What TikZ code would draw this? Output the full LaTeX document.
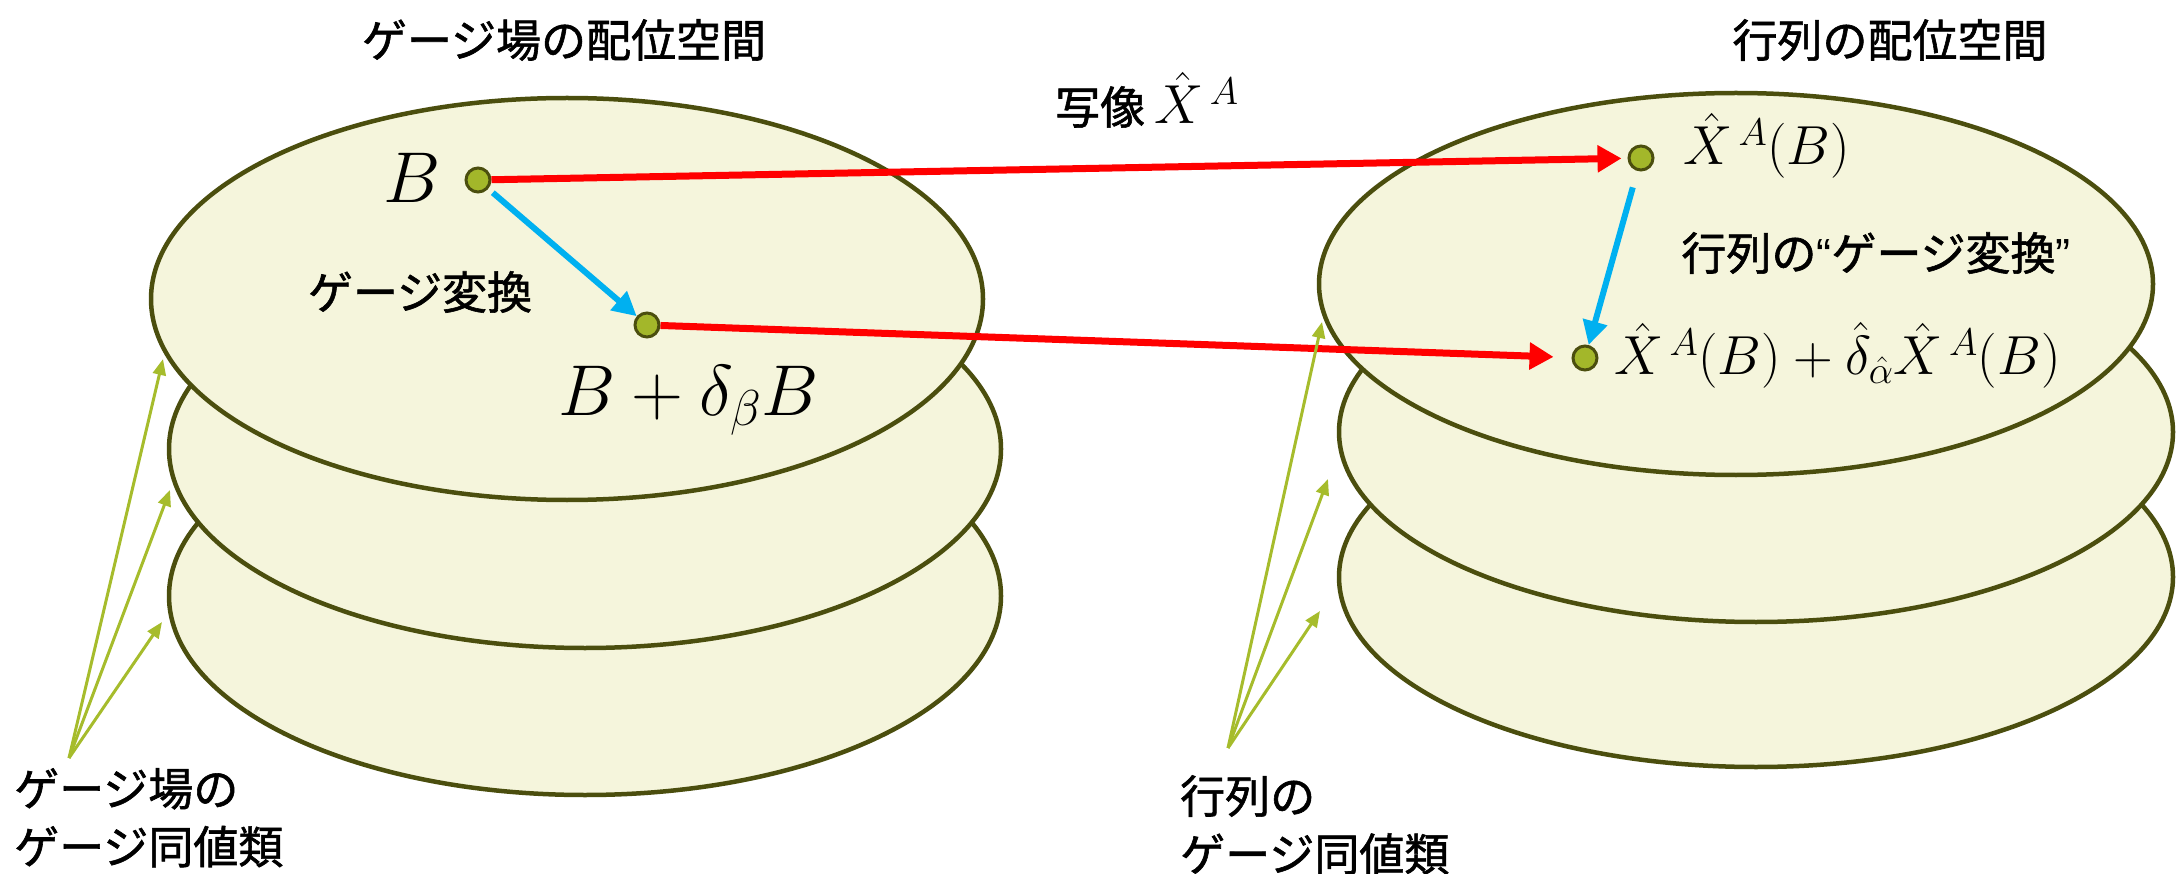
\documentclass[tikz,border=0pt]{standalone}
\usepackage{fix-cm}
\usepackage{fontspec}
\setmainfont{Noto Sans CJK JP}[RawFeature={embolden=1.3}]
\newfontfamily\latinq{Liberation Sans}
\usetikzlibrary{arrows.meta,shapes.geometric}
\definecolor{layerfill}{RGB}{245,245,220}
\definecolor{layerline}{RGB}{75,78,14}
\definecolor{dotfill}{RGB}{163,183,42}
\definecolor{greenarr}{RGB}{166,188,44}
\definecolor{bluearr}{RGB}{0,176,240}
\definecolor{redarr}{RGB}{255,0,0}
\begin{document}
\begin{tikzpicture}[x=1pt,y=-1pt,
  layer/.style={ellipse, draw=layerline, fill=layerfill, line width=4.5pt, inner sep=0pt},
  ldisk/.style={layer, minimum width=832pt, minimum height=398pt},
  rdisk/.style={layer, minimum width=834pt, minimum height=380pt},
  pt/.style={circle, draw=layerline, fill=dotfill, line width=3pt, minimum size=24pt, inner sep=0pt},
  jp/.style={font=\fontsize{45}{58}\selectfont, inner sep=0pt},
  mbig/.style={font=\fontsize{72}{80}\selectfont, inner sep=0pt},
  mmid/.style={font=\fontsize{55}{62}\selectfont, inner sep=0pt},
  rarrow/.style={draw=redarr, line width=7pt, -{Triangle[length=24pt,width=26pt]}},
  barrow/.style={draw=bluearr, line width=6pt, -{Triangle[length=24pt,width=24pt]}},
  garrow/.style={draw=greenarr, line width=3pt, -{Triangle[length=16pt,width=13pt]}}
]
\useasboundingbox (0,0) rectangle (2179,874);

% left stack
\node[ldisk] (L3) at (585,596) {};
\node[ldisk] (L2) at (585,449) {};
\node[ldisk, minimum height=402pt] (L1) at (567,299) {};
% right stack
\node[rdisk] (R3) at (1756,577) {};
\node[rdisk] (R2) at (1756,432) {};
\node[rdisk, minimum height=382pt] (R1) at (1736,284) {};

% titles
\node[jp] (tL) at (564,40) {ゲージ場の配位空間};
\node[jp] (tR) at (1890,40) {行列の配位空間};
\node[jp, anchor=base west] (map) at (1055,124) {写像{\fontsize{55}{62}\selectfont$\,\hat{X}^{\,A}$}};

% points
\node[pt] (dB) at (478,180) {};
\node[pt] (dB2) at (647,325) {};
\node[pt] (dX) at (1641,158) {};
\node[pt] (dX2) at (1585,358) {};

% labels
\node[mbig, anchor=base east] (lB) at (441,203) {$B$};
\node[mbig, anchor=base west] (lB2) at (558,415) {$B+\delta_\beta B$};
\node[jp] (lgt) at (420,292) {ゲージ変換};
\node[mmid, anchor=base west] (lX) at (1683,165) {$\hat{X}^{\,A}(B)$};
\node[mmid, anchor=base west] (lX2) at (1614,375) {$\hat{X}^{\,A}(B)+\hat{\delta}_{\hat{\alpha}}\hat{X}^{\,A}(B)$};
\node[jp] (lmgt) at (1876,253) {行列の{\latinq “}ゲージ変換{\latinq ”}};

% arrows
\draw[rarrow, shorten >=6pt] (dB) -- (dX);
\draw[rarrow, shorten >=18pt] (dB2) -- (dX2);
\draw[barrow, shorten <=6pt] (dB) -- (dB2);
\draw[barrow, shorten <=17pt] (dX) -- (dX2);

% equivalence-class pointers
\node[jp, anchor=north west, align=left] (cL) at (14,768) {ゲージ場の\\ゲージ同値類};
\node[jp, anchor=north west, align=left] (cR) at (1180,775) {行列の\\ゲージ同値類};
\coordinate (gL) at (69,758);
\coordinate (gL1) at (163,359);
\coordinate (gL2) at (170,490);
\coordinate (gL3) at (162,622);
\coordinate (gR) at (1228,748);
\coordinate (gR1) at (1322,322);
\coordinate (gR2) at (1328,479);
\coordinate (gR3) at (1320,611);
\draw[garrow] (gL) -- (gL1);
\draw[garrow] (gL) -- (gL2);
\draw[garrow] (gL) -- (gL3);
\draw[garrow] (gR) -- (gR1);
\draw[garrow] (gR) -- (gR2);
\draw[garrow] (gR) -- (gR3);
\end{tikzpicture}
\end{document}
